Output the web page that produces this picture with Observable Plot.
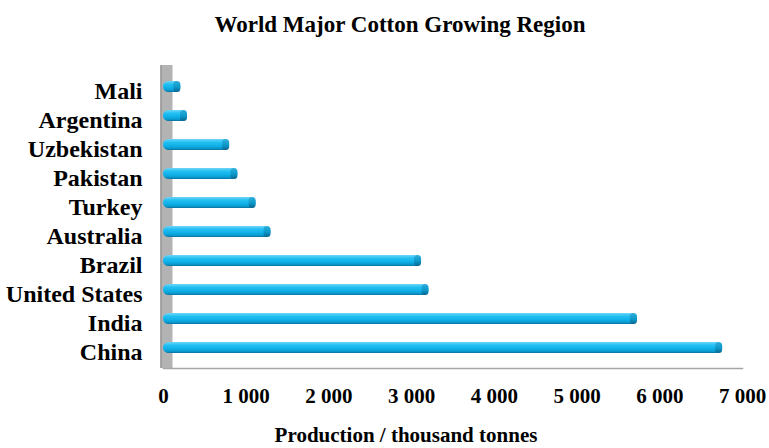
<!DOCTYPE html>
<html>
<head>
<meta charset="utf-8">
<script src="https://cdn.jsdelivr.net/npm/d3@7"></script>
<script src="https://cdn.jsdelivr.net/npm/@observablehq/plot@0.6"></script>
<style>
  body { margin: 0; background: #fff; font-family: "Liberation Serif", "Times New Roman", serif; color: #000; }
  #wrap { width: 769px; height: 448px; position: relative; overflow: hidden; }
  .title { height: 50px; line-height: 50px; font-size: 23px; font-weight: bold; text-align: center; padding-left: 31px; box-sizing: border-box; }
  .xlabel { height: 33px; padding-top: 9px; line-height: 22px; font-size: 21px; font-weight: bold; text-align: center; padding-left: 43px; box-sizing: border-box; }
  #chart svg { display: block; }
</style>
</head>
<body>
<div id="wrap">
  <div class="title">World Major Cotton Growing Region</div>
  <div id="chart"></div>
  <div class="xlabel">Production / thousand tonnes</div>
</div>
<script>
// Cotton production by country, thousand tonnes
const countries = ["Mali", "Argentina", "Uzbekistan", "Pakistan", "Turkey", "Australia", "Brazil", "United States", "India", "China"];
const production = [210, 290, 800, 900, 1120, 1300, 3120, 3210, 5730, 6760];
const xTicks = [0, 1000, 2000, 3000, 4000, 5000, 6000, 7000];

const data = countries.map((country, i) => ({country, value: production[i]}));
const spaced = d3.formatLocale({thousands: "\u00a0", grouping: [3], decimal: "."}).format(",");

const chart = Plot.plot({
  width: 769,
  height: 365,
  marginTop: 15,
  marginBottom: 47,
  marginLeft: 163,
  marginRight: 27,
  style: {fontFamily: "'Liberation Serif', 'Times New Roman', serif", color: "#000", background: "transparent", overflow: "visible"},
  x: {domain: [0, 7000]},
  y: {domain: countries, paddingInner: 0.63, paddingOuter: 0.44},
  marks: [
    // back wall behind the bars
    Plot.ruleX([0], {stroke: "#b3b3b3", strokeWidth: 11, dx: 3.5}),
    Plot.ruleX([0], {stroke: "#8a8a8a", strokeWidth: 1.5, dx: -2.5}),
    // floor line
    Plot.frame({anchor: "bottom", stroke: "#a6a6a6", strokeWidth: 1.5}),
    // cylinder bodies
    Plot.barX(data, {y: "country", x: "value", fill: "url(#cyl)", rx: 5.5}),
    // darker end caps
    Plot.barX(data, {y: "country", x1: "value", x2: "value", insetLeft: -7, fill: "url(#cap)", rx: 3.5}),
    Plot.axisY({tickSize: 0, tickPadding: 21, fontSize: 24, fontWeight: "bold", dy: 4, label: null}),
    Plot.axisX({ticks: xTicks, tickFormat: spaced, tickSize: 0, tickPadding: 20, fontSize: 21, fontWeight: "bold", label: null})
  ]
});

d3.select(chart).insert("defs", ":first-child").html(`
  <linearGradient id="cyl" x1="0" y1="0" x2="0" y2="1">
    <stop offset="0" stop-color="#6fd6f7"/>
    <stop offset="0.3" stop-color="#22bff2"/>
    <stop offset="0.65" stop-color="#0eaee6"/>
    <stop offset="0.88" stop-color="#0a94c8"/>
    <stop offset="1" stop-color="#0a6d98"/>
  </linearGradient>
  <linearGradient id="cap" x1="0" y1="0" x2="0" y2="1">
    <stop offset="0" stop-color="#2fb0dc"/>
    <stop offset="0.6" stop-color="#0a95c6"/>
    <stop offset="1" stop-color="#0a628a"/>
  </linearGradient>
`);

document.getElementById("chart").append(chart);
</script>
</body>
</html>
